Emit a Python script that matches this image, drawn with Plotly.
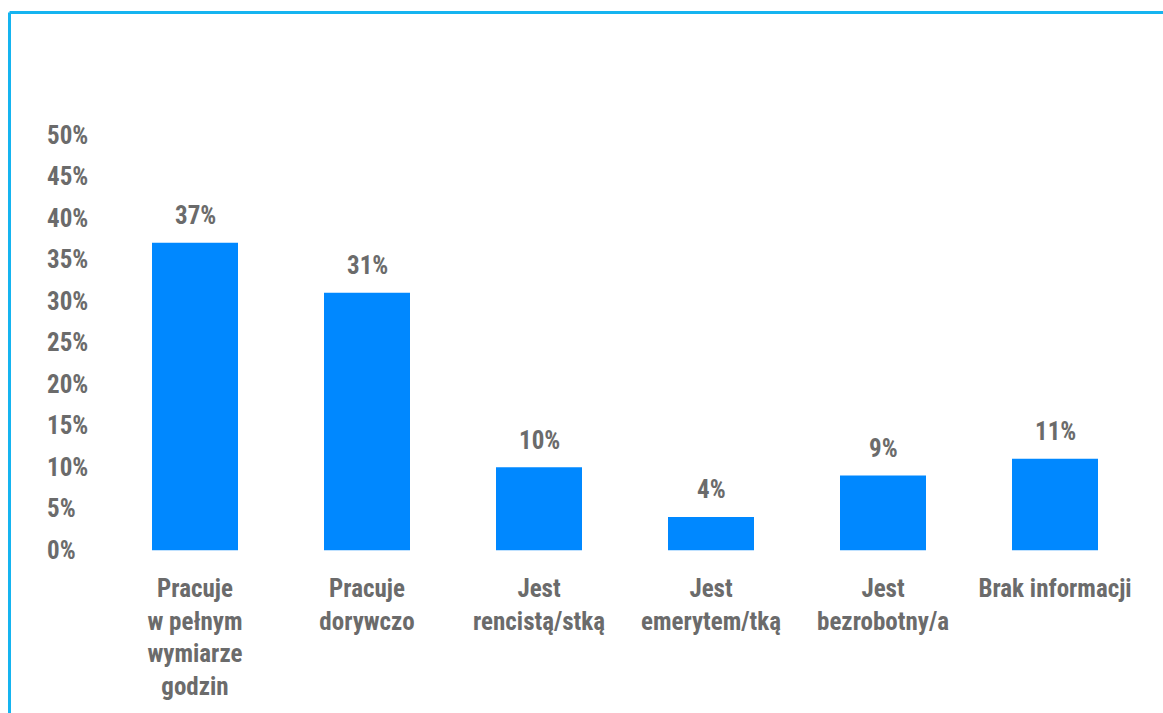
import plotly.graph_objects as go

# Status zawodowy respondentów (odsetek)
categories = [
    "Pracuje<br>w pełnym<br>wymiarze<br>godzin",
    "Pracuje<br>dorywczo",
    "Jest<br>rencistą/stką",
    "Jest<br>emerytem/tką",
    "Jest<br>bezrobotny/a",
    "Brak informacji",
]
values = [37, 31, 10, 4, 9, 11]
y_ticks = [0, 5, 10, 15, 20, 25, 30, 35, 40, 45, 50]

BAR_COLOR = "#0088ff"
TEXT_COLOR = "#6b6b6b"
FRAME_COLOR = "#15b4f0"
FONT = "Roboto Condensed, Roboto, sans-serif"
FS = 25

W, H = 1163, 713
Y_LO, Y_HI = -2.5, 52.5
PX_PER_UNIT = (552 - 135) / 50
L = 44
R = W - 1141
T = round(135 - (Y_HI - 50) * PX_PER_UNIT)
B = round(H - (552 - Y_LO * PX_PER_UNIT))

fig = go.Figure(
    go.Bar(
        x=list(range(len(categories))),
        y=values,
        marker=dict(color=BAR_COLOR, line=dict(width=0)),
        width=0.5,
        hoverinfo="skip",
    )
)

# value labels above the bars
for i, v in enumerate(values):
    fig.add_annotation(
        x=i, y=v, text=f"<b>{v}%</b>", showarrow=False,
        yanchor="middle", yshift=27,
        font=dict(family=FONT, size=FS, color=TEXT_COLOR),
    )

# frame: top and left edges of the card
pw = W - L - R
ph = H - T - B
def px_to_paper_x(px):
    return (px - L) / pw
def px_to_paper_y(py):
    return (H - B - py) / ph

fig.add_shape(type="line", xref="paper", yref="paper",
              x0=px_to_paper_x(9.5), x1=px_to_paper_x(W + 5),
              y0=px_to_paper_y(12), y1=px_to_paper_y(12),
              line=dict(color=FRAME_COLOR, width=3))
fig.add_shape(type="line", xref="paper", yref="paper",
              x0=px_to_paper_x(9.5), x1=px_to_paper_x(9.5),
              y0=px_to_paper_y(12), y1=px_to_paper_y(H + 5),
              line=dict(color=FRAME_COLOR, width=3))

cat_px = 172
fig.update_layout(
    width=W, height=H,
    margin=dict(l=L, r=R, t=T, b=B, pad=0),
    paper_bgcolor="white", plot_bgcolor="white",
    showlegend=False,
    font=dict(family=FONT, color=TEXT_COLOR, size=FS),
)
fig.update_xaxes(
    range=[5.5 - (1141 - L) / cat_px, 5.5],
    tickmode="array",
    tickvals=list(range(len(categories))),
    ticktext=[f"<b>{c}</b>" for c in categories],
    tickfont=dict(family=FONT, size=FS, color=TEXT_COLOR),
    showgrid=False, zeroline=False, showline=False, ticks="",
    ticklabelstandoff=0,
)
fig.update_yaxes(
    range=[Y_LO, Y_HI],
    tickmode="array",
    tickvals=y_ticks,
    ticktext=[f"<b>{t}%</b>" for t in y_ticks],
    tickfont=dict(family=FONT, size=FS, color=TEXT_COLOR),
    ticklabelposition="inside",
    showgrid=False, zeroline=False, showline=False, ticks="",
)

fig.write_html("out.html")
